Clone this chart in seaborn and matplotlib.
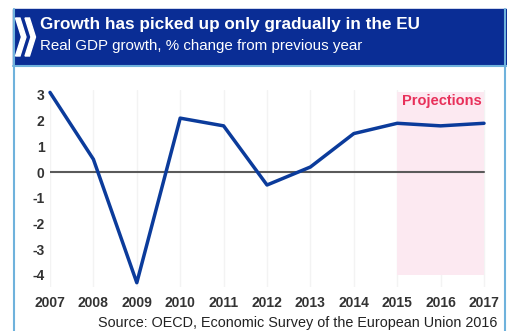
import matplotlib
matplotlib.use("Agg")
import matplotlib.pyplot as plt
import seaborn as sns
import pandas as pd
from matplotlib.patches import Rectangle, Polygon

years = [2007, 2008, 2009, 2010, 2011, 2012, 2013, 2014, 2015, 2016, 2017]
growth = [3.1, 0.5, -4.3, 2.1, 1.8, -0.5, 0.2, 1.5, 1.9, 1.8, 1.9]
yticks = [3, 2, 1, 0, -1, -2, -3, -4]
proj_start, proj_end = 2015, 2017

title = "Growth has picked up only gradually in the EU"
subtitle = "Real GDP growth, % change from previous year"
source = "Source: OECD, Economic Survey of the European Union 2016"

sns.set_style("white")
plt.rcParams['font.family'] = ['Liberation Sans', 'DejaVu Sans']

W, H = 507, 331
fig = plt.figure(figsize=(W / 100, H / 100), dpi=100)

def fx(px):
    return px / W

def fy(py):
    return 1 - py / H

# frame
BORDER = "#6fb2dc"
fig.add_artist(plt.Line2D([fx(13.5), fx(13.5)], [fy(9), fy(331)], color=BORDER, lw=1.5))
fig.add_artist(plt.Line2D([fx(505), fx(505)], [fy(9), fy(331)], color=BORDER, lw=1.5))
fig.add_artist(plt.Line2D([fx(13), fx(507)], [fy(66), fy(66)], color=BORDER, lw=1.5))
# header box
HEAD = "#0a2d95"
fig.add_artist(Rectangle((fx(13), fy(65)), fx(507) - fx(13), fy(9) - fy(65),
                         transform=fig.transFigure, color=HEAD, zorder=1))
# chevrons
for x0 in (15.5, 25):
    pts = [(x0, 18), (x0 + 4.5, 18), (x0 + 10.5, 37), (x0 + 4.5, 56), (x0, 56), (x0 + 6, 37)]
    fig.add_artist(Polygon([(fx(a), fy(b)) for a, b in pts], closed=True,
                           transform=fig.transFigure, color="white", zorder=2))
fig.text(fx(40), fy(25), title, color="white", fontsize=12.3, fontweight="bold",
         va="center", ha="left", zorder=3)
fig.text(fx(40), fy(46), subtitle, color="white", fontsize=10.9,
         va="center", ha="left", zorder=3)

# axes
x_left, x_right = 2007.0, 2017.2
px_year = (484 - 50) / 10
ax_l = 50
ax_r = 484 + 0.2 * px_year
y_top_val, y_bot_val = 3.2, -4.45
px_unit = (275 - 95) / 7
ax_t = 95 - 0.2 * px_unit
ax_b = 275 + 0.45 * px_unit
ax = fig.add_axes([fx(ax_l), fy(ax_b), fx(ax_r) - fx(ax_l), fy(ax_t) - fy(ax_b)])
ax.set_xlim(x_left, x_right)
ax.set_ylim(y_bot_val, y_top_val)

for yr in years:
    ax.axvline(yr, color="#f3f3f3", lw=1.0, zorder=0)

ax.fill_between([proj_start, proj_end], -4.0, 3.1, color="#fce9f1", lw=0, zorder=0.5)
ax.axhline(0, color="#5a5a5a", lw=1.5, zorder=1, xmin=0, xmax=(proj_end - x_left) / (x_right - x_left))

df = pd.DataFrame({"year": years, "growth": growth})
sns.lineplot(data=df, x="year", y="growth", ax=ax, color="#0b3b9b", lw=2.5,
             zorder=3, clip_on=False)

ax.text(2016.95, 2.75, "Projections", color="#e8305a", fontsize=10.5,
        fontweight="bold", ha="right", va="center")

for s in ax.spines.values():
    s.set_visible(False)
ax.set_xlabel("")
ax.set_ylabel("")
ax.set_yticks(yticks)
ax.set_yticklabels([str(v) for v in yticks])
ax.set_xticks(years)
ax.set_xticklabels([str(y) for y in years])
ax.tick_params(axis="y", which="major", length=4, width=1.2, color="#555555",
               direction="inout", pad=2, labelsize=10, labelcolor="#333333")
ax.tick_params(axis="x", which="major", length=0, pad=7, labelsize=10,
               labelcolor="#333333")
for lab in ax.get_xticklabels() + ax.get_yticklabels():
    lab.set_fontweight("bold")
ax.patch.set_alpha(0)

fig.text(fx(497), fy(323), source, color="#222222", fontsize=10.4,
         ha="right", va="center")

fig.savefig("out.png", dpi=100, facecolor="white")
